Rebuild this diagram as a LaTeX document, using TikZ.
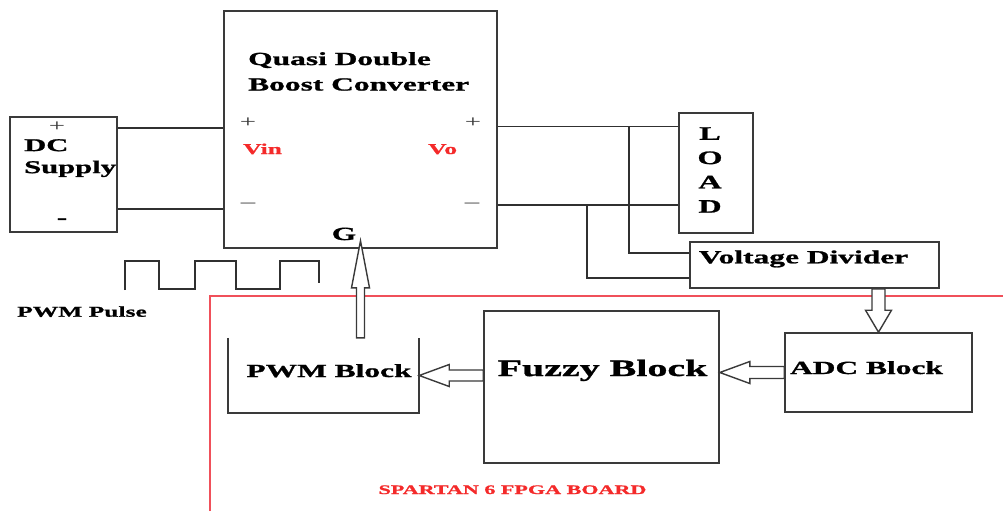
\documentclass[tikz,border=0pt]{standalone}
\usepackage{fontspec}
\setmainfont{Liberation Serif}[FakeStretch=1.7, BoldFeatures={FakeBold=1.2}]
\usetikzlibrary{calc, positioning}
\definecolor{boxgray}{HTML}{3A3A3A}
\definecolor{wiregray}{HTML}{303030}
\definecolor{boardred}{HTML}{F0505A}
\definecolor{termred}{HTML}{F42A2A}
\tikzset{
    box/.style={
        rectangle, draw=boxgray, line width=1.6pt, inner sep=0pt,
    },
    lbl/.style={
        font=\bfseries\fontsize{18.5}{24}\selectfont, inner sep=0pt,
    },
    term/.style={
        font=\fontsize{17}{17}\selectfont, inner sep=0pt, text=boxgray,
    },
    vlbl/.style={
        font=\bfseries\fontsize{15}{15}\selectfont, inner sep=0pt, text=termred,
    },
    wire/.style={
        draw=wiregray, line width=1.5pt,
    },
    % hollow block arrow: head length, shaft half width, head half width
    hollow/.style n args={3}{
        draw=boxgray, line width=1.4pt, fill=white, line join=miter,
        to path={
            ($(\tikztotarget)!#1!(\tikztostart)$) coordinate (hb)
            ($(\tikztostart)!#2!90:(\tikztotarget)$)
            -- ($(hb)!#2!90:(\tikztotarget)$)
            -- ($(hb)!#3!90:(\tikztotarget)$)
            -- (\tikztotarget)
            -- ($(hb)!#3!-90:(\tikztotarget)$)
            -- ($(hb)!#2!-90:(\tikztotarget)$)
            -- ($(\tikztostart)!#2!-90:(\tikztotarget)$)
            -- cycle
        },
    },
}

\begin{document}
\begin{tikzpicture}[x=1pt, y=-1pt]
    \useasboundingbox (0,0) rectangle (1003,511);

    % ── FPGA board outline ──
    \draw[boardred, line width=1.3pt] (210,511) |- (1003,296);
    \node[lbl, font=\bfseries\fontsize{13}{13}\selectfont, text=termred, anchor=base]
        (boardtxt) at (512.5,494) {SPARTAN 6 FPGA BOARD};

    % ── DC supply ──
    \node[box, minimum width=107pt, minimum height=115pt] (dc) at (63.5,174.5) {};
    \node[lbl, font=\bfseries\fontsize{18}{22}\selectfont, anchor=north west, align=left]
        (dctxt) at (24,139) {DC\\Supply};
    \node[term] (dcp) at (57,127) {+};
    \node[lbl] (dcm) at (62,221) {-};

    % ── Converter ──
    \node[box, minimum width=273pt, minimum height=237pt] (conv) at (360.5,129.5) {};
    \node[lbl, font=\bfseries\fontsize{18.5}{25.5}\selectfont, anchor=north west, align=left]
        (convtxt) at (248,52) {Quasi Double\\Boost Converter};
    \node[term] (vinp) at (248,123) {+};
    \node[vlbl, anchor=base west] (vin) at (243,154) {Vin};
    \node[term] (vinm) at (248,205) {--};
    \node[term] (voutp) at (473,123) {+};
    \node[vlbl, anchor=base west] (vo) at (428,154) {Vo};
    \node[term] (voutm) at (472,205) {--};
    \node[lbl, anchor=base] (gpin) at (344,240) {G};

    % ── Load and divider ──
    \node[box, minimum width=74pt, minimum height=120pt] (load) at (716,173) {};
    \node[lbl, font=\bfseries\fontsize{19}{24.3}\selectfont, align=center]
        (loadtxt) at (710,170) {L\\O\\A\\D};
    \node[box, minimum width=249pt, minimum height=46pt] (vd) at (814.5,265) {};
    \node[lbl, anchor=base] (vdtxt) at (803.5,263.3) {Voltage Divider};

    % ── FPGA blocks ──
    \node[box, minimum width=187pt, minimum height=79pt] (adc) at (878.5,372.5) {};
    \node[lbl, anchor=base] (adctxt) at (866.5,374) {ADC Block};
    \node[box, minimum width=235pt, minimum height=152pt] (fuzzy) at (601.5,387) {};
    \node[lbl, font=\bfseries\fontsize{23.5}{24}\selectfont, anchor=base]
        (fuzzytxt) at (602.5,376) {Fuzzy Block};
    \node[rectangle, inner sep=0pt, minimum width=191pt, minimum height=75pt] (pwm) at (323.5,375.5) {};
    \draw[boxgray, line width=1.6pt] (pwm.north west) -- (pwm.south west) -- (pwm.south east) -- (pwm.north east);
    \node[lbl, anchor=base] (pwmtxt) at (329,377) {PWM Block};

    % ── PWM pulse ──
    \draw[wire] (125,290) -- (125,261) -- (159,261) -- (159,289) -- (195,289) -- (195,261)
        -- (236,261) -- (236,289) -- (280,289) -- (280,261) -- (319,261) -- (319,283);
    \node[lbl, font=\bfseries\fontsize{15}{15}\selectfont, anchor=base west] (pulsetxt) at (17,316.7) {PWM Pulse};

    % ── Wires: supply -> converter ──
    \draw[wire] ([yshift=-12pt]dc.north east) -- ([yshift=-12pt]dc.north east -| conv.west);
    \draw[wire] ([yshift=24pt]dc.south east) -- ([yshift=24pt]dc.south east -| conv.west);

    % ── Wires: converter -> load, divider taps ──
    \coordinate (outp) at ([yshift=3pt]conv.east);
    \coordinate (outm) at ([yshift=44pt]conv.south east);
    \draw[wire] (outp) -- (outp -| load.west);
    \draw[wire] (outm) -- (outm -| load.west);
    \draw[wire] ([xshift=-49pt]outp -| load.west) |- ([yshift=12pt]vd.west);
    \draw[wire] ([xshift=-91pt]outm -| load.west) |- ([yshift=-13pt]vd.west);

    % ── Block arrows ──
    \draw[hollow={22pt}{6.5pt}{13pt}] (adc.north |- vd.south) to (adc.north);
    \draw[hollow={30pt}{6pt}{11pt}] (adc.west) to (adc.west -| fuzzy.east);
    \draw[hollow={30pt}{5.5pt}{11pt}] (fuzzy.west |- pwm.east) to (pwm.east);
    \coordinate (gtip) at ([yshift=8pt]conv.south);
    \draw[hollow={47pt}{4pt}{9pt}] (conv.south |- pwm.north) to (gtip);

\end{tikzpicture}
\end{document}
